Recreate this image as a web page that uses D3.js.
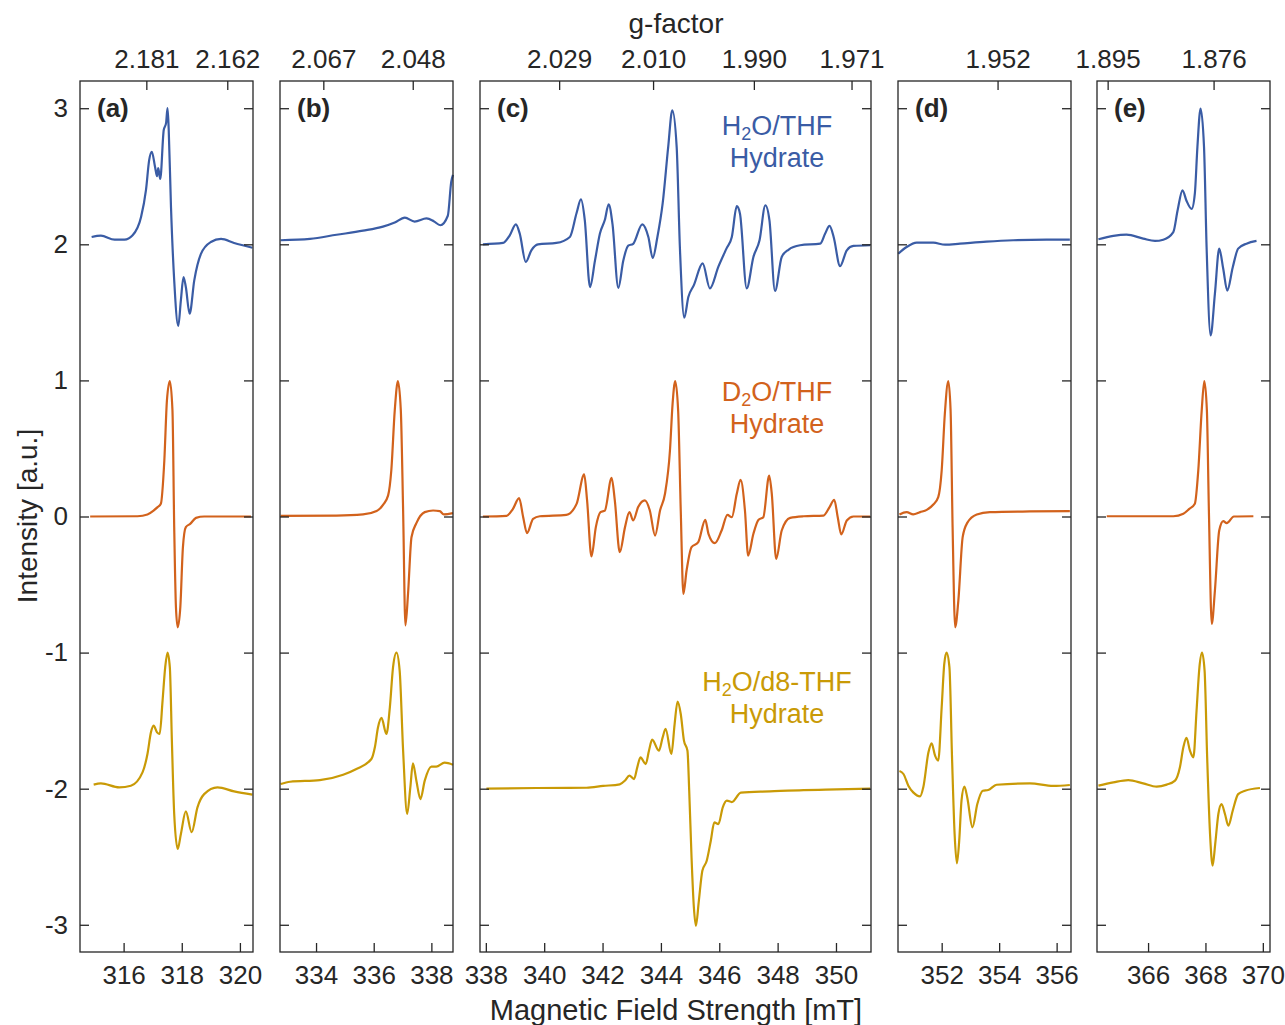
<!DOCTYPE html>
<html>
<head>
<meta charset="utf-8">
<script src="https://cdn.jsdelivr.net/npm/d3@7"></script>
<style>
  body { margin: 0; background: #fff; }
  text { font-family: "Liberation Sans", Arial, sans-serif; fill: #262626; }
</style>
</head>
<body>
<div id="chart"></div>
<script>
// field ranges (mT) and tick values per panel
var panelNames = ["(a)", "(b)", "(c)", "(d)", "(e)"];
var fieldRanges = [[314.5, 320.45], [332.75, 338.75], [337.8, 351.2], [350.48, 356.5], [364.22, 370.25]];
var fieldTicks = [[316, 318, 320], [334, 336, 338], [338, 340, 342, 344, 346, 348, 350], [352, 354, 356], [366, 368, 370]];
var gTicks = [["2.181", "2.162"], ["2.067", "2.048"], ["2.029", "2.010", "1.990", "1.971"], ["1.952"], ["1.895", "1.876"]];
var intensityTicks = [-3, -2, -1, 0, 1, 2, 3];
var gTimesField = 690.9; // g * B in mT for the spectrometer frequency

// H2O/THF hydrate (offset +2)
var h2oA = [[314.9,2.054],[315.22,2.064],[315.69,2.034],[316.03,2.034],[316.31,2.066],[316.6,2.2],[316.77,2.4],[316.88,2.62],[316.97,2.68],[317.08,2.57],[317.15,2.5],[317.19,2.56],[317.26,2.48],[317.38,2.84],[317.46,2.89],[317.51,3.0],[317.55,2.85],[317.63,2.27],[317.74,1.735],[317.88,1.4],[317.97,1.59],[318.06,1.76],[318.14,1.686],[318.27,1.49],[318.43,1.735],[318.66,1.93],[319.0,2.017],[319.35,2.04],[319.8,2.01],[320.43,1.975]];
var h2oB = [[332.77,2.03],[333.79,2.04],[334.71,2.07],[335.63,2.1],[336.32,2.13],[336.73,2.16],[337.08,2.196],[337.42,2.167],[337.83,2.19],[338.08,2.17],[338.31,2.14],[338.57,2.21],[338.69,2.46],[338.75,2.51]];
var h2oC = [[337.9,2.0],[338.59,2.01],[338.82,2.066],[339.03,2.147],[339.16,2.08],[339.37,1.87],[339.56,1.956],[339.79,2.0],[340.42,2.01],[340.88,2.054],[341.11,2.23],[341.26,2.33],[341.39,2.18],[341.57,1.686],[341.74,1.88],[341.91,2.08],[342.08,2.18],[342.21,2.294],[342.34,2.15],[342.54,1.68],[342.71,1.88],[342.88,1.99],[343.05,2.004],[343.36,2.147],[343.57,2.054],[343.72,1.9],[343.88,2.054],[344.06,2.3],[344.25,2.716],[344.39,2.985],[344.54,2.716],[344.65,1.98],[344.8,1.461],[344.94,1.613],[345.13,1.7],[345.43,1.86],[345.68,1.676],[345.97,1.836],[346.25,1.97],[346.43,2.054],[346.6,2.28],[346.71,2.225],[346.94,1.676],[347.17,1.907],[347.38,2.03],[347.58,2.287],[347.72,2.176],[347.91,1.657],[348.14,1.907],[348.37,1.96],[348.77,1.993],[349.46,2.005],[349.63,2.08],[349.78,2.135],[349.92,2.054],[350.14,1.84],[350.37,1.956],[350.6,1.988],[351.17,1.993]];
var h2oD = [[350.49,1.931],[350.78,1.98],[351.13,2.012],[351.71,2.012],[352.12,1.997],[352.64,2.005],[353.56,2.02],[354.49,2.03],[355.65,2.034],[356.46,2.034]];
var h2oE = [[364.27,2.037],[364.79,2.062],[365.25,2.071],[365.83,2.042],[366.24,2.025],[366.53,2.034],[366.88,2.09],[367.03,2.25],[367.2,2.397],[367.34,2.32],[367.52,2.26],[367.63,2.372],[367.72,2.716],[367.83,2.998],[367.95,2.716],[368.04,1.98],[368.18,1.33],[368.33,1.637],[368.48,1.968],[368.62,1.82],[368.76,1.66],[368.95,1.83],[369.14,1.968],[369.43,2.005],[369.78,2.025]];

// D2O/THF hydrate (offset 0)
var d2oA = [[314.85,0],[316.48,0.002],[316.82,0.015],[317.03,0.044],[317.17,0.069],[317.28,0.093],[317.4,0.41],[317.49,0.853],[317.59,0.995],[317.68,0.78],[317.74,-0.078],[317.8,-0.667],[317.86,-0.814],[317.95,-0.667],[318.04,-0.225],[318.14,-0.078],[318.29,-0.054],[318.49,-0.01],[318.77,0],[320.38,0]];
var d2oB = [[332.77,0.005],[334.71,0.007],[335.63,0.015],[336.1,0.04],[336.33,0.088],[336.5,0.155],[336.61,0.338],[336.73,0.78],[336.84,0.995],[336.94,0.78],[337.02,0.044],[337.1,-0.8],[337.19,-0.569],[337.31,-0.152],[337.48,-0.049],[337.77,0.032],[338.06,0.044],[338.29,0.039],[338.43,0.015],[338.75,0.025]];
var d2oC = [[337.9,0],[338.71,0.005],[338.93,0.056],[339.14,0.135],[339.28,-0.005],[339.41,-0.122],[339.62,-0.017],[339.85,0.002],[340.76,0.012],[341.11,0.093],[341.37,0.309],[341.47,0.118],[341.62,-0.294],[341.77,-0.078],[341.93,0.032],[342.08,0.044],[342.31,0.284],[342.42,0.118],[342.59,-0.262],[342.77,-0.078],[342.92,0.032],[343.05,-0.029],[343.22,0.069],[343.45,0.118],[343.62,0.044],[343.8,-0.14],[343.97,0.044],[344.14,0.167],[344.31,0.485],[344.4,0.828],[344.49,0.995],[344.59,0.78],[344.68,0.044],[344.77,-0.569],[344.88,-0.397],[345.05,-0.225],[345.28,-0.189],[345.52,-0.025],[345.63,-0.127],[345.85,-0.196],[346.08,-0.103],[346.28,0.012],[346.43,-0.005],[346.6,0.167],[346.73,0.27],[346.88,0.044],[346.99,-0.287],[347.17,-0.127],[347.34,-0.025],[347.51,-0.005],[347.71,0.301],[347.8,0.167],[347.95,-0.311],[348.14,-0.103],[348.43,-0.01],[348.89,0.002],[349.57,0.007],[349.78,0.069],[349.94,0.123],[350.06,-0.005],[350.18,-0.132],[350.37,-0.029],[350.6,0],[351.17,0]];
var d2oD = [[350.53,0.015],[350.78,0.032],[351.01,0.015],[351.25,0.032],[351.48,0.049],[351.71,0.088],[351.88,0.142],[352.0,0.338],[352.11,0.755],[352.23,0.995],[352.31,0.78],[352.38,-0.078],[352.47,-0.814],[352.58,-0.618],[352.73,-0.152],[352.89,-0.047],[353.22,0.015],[353.68,0.032],[355.07,0.037],[356.46,0.039]];
var d2oE = [[364.56,0.002],[366.88,0.002],[367.23,0.02],[367.44,0.056],[367.63,0.093],[367.75,0.338],[367.87,0.78],[367.96,0.995],[368.05,0.78],[368.12,0.044],[368.22,-0.789],[368.33,-0.544],[368.48,-0.103],[368.62,-0.034],[368.74,-0.049],[368.99,0],[369.67,0.002]];

// H2O/d8-THF hydrate (offset -2)
var d8A = [[314.97,-1.97],[315.22,-1.961],[315.85,-1.99],[316.25,-1.978],[316.65,-1.88],[316.82,-1.745],[316.94,-1.586],[317.03,-1.537],[317.15,-1.586],[317.24,-1.598],[317.34,-1.353],[317.43,-1.108],[317.51,-1.0],[317.59,-1.108],[317.66,-1.647],[317.74,-2.186],[317.86,-2.443],[317.97,-2.333],[318.14,-2.167],[318.34,-2.32],[318.54,-2.137],[318.77,-2.04],[319.23,-1.99],[319.8,-2.02],[320.43,-2.044]];
var d8B = [[332.77,-1.966],[333.1,-1.949],[334.13,-1.937],[334.94,-1.897],[335.4,-1.855],[335.92,-1.782],[336.04,-1.696],[336.15,-1.549],[336.27,-1.48],[336.44,-1.598],[336.56,-1.402],[336.67,-1.108],[336.79,-1.0],[336.9,-1.132],[337.02,-1.721],[337.16,-2.186],[337.27,-1.99],[337.36,-1.814],[337.48,-1.941],[337.62,-2.076],[337.77,-1.941],[338.0,-1.838],[338.17,-1.838],[338.46,-1.809],[338.75,-1.824]];
var d8C = [[338.02,-2.0],[339.74,-1.995],[341.45,-1.993],[342.02,-1.98],[342.59,-1.968],[342.77,-1.94],[342.92,-1.904],[343.08,-1.929],[343.19,-1.843],[343.3,-1.77],[343.48,-1.819],[343.59,-1.721],[343.7,-1.64],[343.93,-1.721],[344.06,-1.623],[344.16,-1.561],[344.36,-1.745],[344.47,-1.525],[344.57,-1.36],[344.68,-1.451],[344.79,-1.647],[344.91,-1.721],[344.97,-2.015],[345.05,-2.505],[345.13,-2.873],[345.2,-3.008],[345.3,-2.824],[345.42,-2.603],[345.57,-2.53],[345.71,-2.382],[345.83,-2.248],[345.97,-2.26],[346.12,-2.137],[346.26,-2.088],[346.43,-2.098],[346.74,-2.029],[347.74,-2.02],[348.89,-2.01],[350.03,-2.005],[351.17,-2.0]];
var d8D = [[350.53,-1.87],[350.67,-1.892],[350.84,-1.978],[351.01,-2.027],[351.25,-2.056],[351.36,-1.99],[351.54,-1.733],[351.65,-1.667],[351.77,-1.757],[351.88,-1.794],[352.0,-1.402],[352.09,-1.083],[352.17,-1.0],[352.27,-1.108],[352.36,-1.77],[352.45,-2.333],[352.53,-2.549],[352.61,-2.382],[352.69,-2.088],[352.79,-1.985],[352.89,-2.064],[353.07,-2.284],[353.24,-2.113],[353.43,-2.015],[353.62,-2.01],[353.91,-1.971],[355.07,-1.961],[355.88,-1.98],[356.46,-1.973]];
var d8E = [[364.27,-1.978],[364.79,-1.954],[365.31,-1.937],[365.83,-1.961],[366.3,-1.985],[366.65,-1.97],[366.94,-1.941],[367.11,-1.843],[367.23,-1.696],[367.34,-1.627],[367.46,-1.721],[367.58,-1.77],[367.69,-1.427],[367.79,-1.108],[367.88,-1.0],[367.97,-1.132],[368.06,-1.77],[368.16,-2.333],[368.25,-2.566],[368.34,-2.407],[368.45,-2.186],[368.56,-2.113],[368.68,-2.186],[368.8,-2.272],[368.95,-2.162],[369.14,-2.04],[369.38,-2.015],[369.9,-1.995]];

var colors = ["#3a5ca5", "#d2621c", "#c99a06"];
var spectra = [
  [h2oA, h2oB, h2oC, h2oD, h2oE],
  [d2oA, d2oB, d2oC, d2oD, d2oE],
  [d8A, d8B, d8C, d8D, d8E]
];

var W = 1285, H = 1025;
var plotTop = 81, plotBottom = 952;
var lefts = [80, 280, 480, 898, 1097];
var widths = [173, 173, 391, 173, 173];
var tickLen = 9;
var tickFont = "26px";

var svg = d3.select("#chart").append("svg")
  .attr("width", W)
  .attr("height", H);

var y = d3.scaleLinear().domain([-3.2, 3.2]).range([plotBottom, plotTop]);

panelNames.forEach(function(name, i) {
  var x = d3.scaleLinear().domain(fieldRanges[i]).range([lefts[i], lefts[i] + widths[i]]);
  var g = svg.append("g");

  // curves
  spectra.forEach(function(series, s) {
    var line = d3.line()
      .x(function(d) { return x(d[0]); })
      .y(function(d) { return y(d[1]); })
      .curve(d3.curveMonotoneX);
    g.append("path")
      .datum(series[i])
      .attr("d", line)
      .attr("fill", "none")
      .attr("stroke", colors[s])
      .attr("stroke-width", 2.2)
      .attr("stroke-linejoin", "round");
  });

  // ticks point inwards on all four sides
  var leftAxis = d3.axisLeft(y).tickValues(intensityTicks).tickSize(-tickLen).tickPadding(12)
    .tickFormat(i === 0 ? function(d) { return String(d); } : "");
  var rightAxis = d3.axisRight(y).tickValues(intensityTicks).tickSize(-tickLen).tickFormat("");
  var bottomAxis = d3.axisBottom(x).tickValues(fieldTicks[i]).tickSize(-tickLen).tickPadding(14)
    .tickFormat(function(d) { return String(d); });
  var topAxis = d3.axisTop(x)
    .tickValues(gTicks[i].map(function(t) { return gTimesField / +t; }))
    .tickSize(-tickLen).tickPadding(13)
    .tickFormat(function(d, k) { return gTicks[i][k]; });

  var axes = [
    g.append("g").attr("transform", "translate(" + lefts[i] + ",0)").call(leftAxis),
    g.append("g").attr("transform", "translate(" + (lefts[i] + widths[i]) + ",0)").call(rightAxis),
    g.append("g").attr("transform", "translate(0," + plotBottom + ")").call(bottomAxis),
    g.append("g").attr("transform", "translate(0," + plotTop + ")").call(topAxis)
  ];
  axes.forEach(function(a) {
    a.select(".domain").remove();
    a.selectAll(".tick line").attr("stroke", "#262626").attr("stroke-width", 1.3);
    a.selectAll(".tick text").attr("fill", "#262626").style("font-size", tickFont)
      .style("font-family", "'Liberation Sans', Arial, sans-serif");
  });

  // frame
  g.append("rect")
    .attr("x", lefts[i]).attr("y", plotTop)
    .attr("width", widths[i]).attr("height", plotBottom - plotTop)
    .attr("fill", "none").attr("stroke", "#262626").attr("stroke-width", 1.3);

  g.append("text")
    .attr("x", lefts[i] + 17).attr("y", plotTop + 36)
    .attr("font-size", "26px").attr("font-weight", "bold")
    .text(name);
});

// series labels in panel (c)
var labelPos = [[777, 135], [777, 401], [777, 691]];
var labelParts = [["H", "2", "O/THF"], ["D", "2", "O/THF"], ["H", "2", "O/d8-THF"]];
labelParts.forEach(function(p, s) {
  var t = svg.append("text")
    .attr("x", labelPos[s][0]).attr("y", labelPos[s][1])
    .attr("text-anchor", "middle").attr("font-size", "27px")
    .style("fill", colors[s]);
  t.append("tspan").text(p[0]);
  t.append("tspan").attr("font-size", "18px").attr("dy", 5).text(p[1]);
  t.append("tspan").attr("dy", -5).text(p[2]);
  svg.append("text")
    .attr("x", labelPos[s][0]).attr("y", labelPos[s][1] + 32)
    .attr("text-anchor", "middle").attr("font-size", "27px")
    .style("fill", colors[s])
    .text("Hydrate");
});

// axis titles
svg.append("text")
  .attr("x", 676).attr("y", 33)
  .attr("text-anchor", "middle").attr("font-size", "28px")
  .text("g-factor");

svg.append("text")
  .attr("x", 676).attr("y", 1020)
  .attr("text-anchor", "middle").attr("font-size", "29px")
  .text("Magnetic Field Strength [mT]");

svg.append("text")
  .attr("transform", "translate(37,516) rotate(-90)")
  .attr("text-anchor", "middle").attr("font-size", "28px")
  .text("Intensity [a.u.]");
</script>
</body>
</html>
